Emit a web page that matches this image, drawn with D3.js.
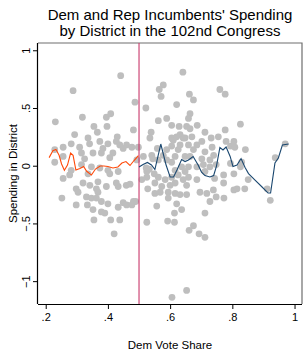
<!DOCTYPE html>
<html>
<head>
<meta charset="utf-8">
<script src="https://cdn.jsdelivr.net/npm/d3@7"></script>
<style>
  body { margin: 0; background: #fff; }
  text { font-family: "Liberation Sans", Arial, sans-serif; fill: #000; }
</style>
</head>
<body>
<svg width="303" height="352"></svg>
<script>
// incumbents: Dem vote share and spending in district
const demVote = [
  0.288, 0.231, 0.318, 0.355, 0.366, 0.293, 0.336, 0.282, 0.341, 0.374,
  0.256, 0.309, 0.229, 0.315, 0.352, 0.256, 0.325, 0.229, 0.315, 0.347,
  0.374, 0.282, 0.336, 0.256, 0.277, 0.320, 0.342, 0.368, 0.363, 0.298,
  0.304, 0.368, 0.252, 0.331, 0.347, 0.363, 0.298, 0.334, 0.352, 0.355,
  0.441, 0.487, 0.395, 0.409, 0.397, 0.430, 0.400, 0.427, 0.384, 0.438,
  0.449, 0.379, 0.416, 0.406, 0.400, 0.433, 0.482, 0.460, 0.498, 0.477,
  0.493, 0.406, 0.395, 0.427, 0.433, 0.459, 0.379, 0.400, 0.449, 0.379,
  0.390, 0.433, 0.409, 0.438, 0.420, 0.471, 0.482, 0.460, 0.477, 0.489,
  0.578, 0.565, 0.571, 0.522, 0.621, 0.562, 0.589, 0.605, 0.629, 0.539,
  0.535, 0.605, 0.632, 0.514, 0.541, 0.589, 0.559, 0.544, 0.610, 0.621,
  0.642, 0.632, 0.605, 0.626, 0.562, 0.616, 0.648, 0.637, 0.616, 0.648,
  0.525, 0.578, 0.589, 0.605, 0.523, 0.533, 0.509, 0.525, 0.549, 0.562,
  0.584, 0.626, 0.551, 0.573, 0.600, 0.528, 0.551, 0.594, 0.616, 0.632,
  0.594, 0.557, 0.621, 0.637, 0.614, 0.525, 0.592, 0.614, 0.653, 0.606,
  0.605, 0.616, 0.568,
  0.641, 0.760, 0.777, 0.662, 0.675, 0.664, 0.659, 0.687, 0.653, 0.664,
  0.777, 0.648, 0.670, 0.712, 0.732, 0.755, 0.780, 0.735, 0.740, 0.748,
  0.659, 0.686, 0.702, 0.675, 0.712, 0.702, 0.728, 0.659, 0.686, 0.707,
  0.728, 0.712, 0.664, 0.642, 0.659, 0.686, 0.653, 0.696, 0.718, 0.739,
  0.653, 0.728, 0.712, 0.675, 0.661, 0.693, 0.712, 0.748, 0.773, 0.772,
  0.743, 0.772,
  0.794, 0.805, 0.808, 0.826, 0.842, 0.794, 0.826, 0.805, 0.851, 0.805,
  0.815, 0.840, 0.912, 0.922, 0.938, 0.970, 0.830
];
const spending = [
  0.65, 0.38, 0.42, 0.34, 0.29, 0.27, 0.24, 0.19, 0.19, 0.21,
  0.16, 0.16, 0.14, 0.11, 0.11, 0.08, 0.06, 0.03, 0.01, -0.01,
  -0.02, -0.04, -0.07, -0.11, -0.08, -0.15, -0.17, -0.14, -0.20, -0.20,
  -0.23, -0.23, -0.28, -0.27, -0.28, -0.28, -0.34, -0.34, -0.38, -0.47,
  0.78, 0.55, 0.42, 0.45, 0.34, 0.25, 0.19, 0.21, 0.15, 0.18,
  0.15, 0.11, 0.11, 0.07, -0.04, -0.05, 0.31, 0.18, 0.16, 0.16,
  0.05, -0.07, -0.18, -0.15, -0.18, -0.17, -0.31, -0.33, -0.32, -0.40,
  -0.41, -0.36, -0.47, -0.47, -0.59, -0.16, -0.31, -0.34, -0.34, -0.31,
  0.70, 0.66, 0.60, 0.50, 0.53, 0.39, 0.41, 0.35, 0.34, 0.29,
  0.24, 0.24, 0.27, 0.08, 0.09, 0.14, 0.15, 0.06, 0.22, 0.25,
  0.24, 0.18, 0.17, 0.14, 0.05, 0.08, 0.08, -0.01, -0.04, -0.05,
  -0.05, 0.09, 0.05, 0.03, -0.02, -0.03, -0.12, -0.10, -0.07, -0.10,
  -0.12, -0.08, -0.15, -0.18, -0.17, -0.20, -0.24, -0.23, -0.24, -0.25,
  -0.28, -0.35, -0.33, -0.38, -0.41, -0.49, -0.48, -0.49, -1.08, -1.14,
  -0.10, -0.15, -0.23,
  0.81, 0.66, 0.62, 0.62, 0.57, 0.45, 0.41, 0.35, 0.34, 0.32,
  0.31, 0.24, 0.25, 0.29, 0.24, 0.25, 0.21, 0.16, 0.09, 0.01,
  0.18, 0.18, 0.21, 0.14, 0.12, 0.06, 0.05, -0.01, -0.01, 0.01,
  -0.01, -0.05, 0.08, -0.12, -0.10, -0.12, -0.17, -0.23, -0.24, -0.21,
  -0.25, -0.31, -0.41, -0.52, -0.56, -0.59, -0.62, -0.27, -0.28, -0.08,
  -0.11, -0.15,
  0.17, 0.21, 0.16, 0.36, 0.14, 0.02, -0.01, -0.07, -0.12, -0.21,
  -0.20, -0.20, -0.20, -0.30, 0.07, 0.19, 0.03
];

// local fits, Dem side and Rep side
const demFitX = [0.211, 0.223, 0.233, 0.243, 0.251, 0.260, 0.270, 0.280, 0.288, 0.297,
  0.310, 0.322, 0.331, 0.347, 0.360, 0.375, 0.387, 0.400, 0.416, 0.432,
  0.445, 0.458, 0.471, 0.484, 0.498];
const demFitY = [0.07, 0.13, 0.14, 0.09, 0.015, -0.04, 0.006, 0.11, 0.09, -0.037,
  -0.024, -0.007, -0.046, -0.081, -0.029, -0.003, -0.003, -0.007, -0.02, -0.011,
  0.023, 0.036, 0.002, 0.045, 0.088];
const repFitX = [0.500, 0.513, 0.527, 0.540, 0.551, 0.570, 0.587, 0.600, 0.611, 0.622,
  0.637, 0.648, 0.659, 0.674, 0.690, 0.701, 0.712, 0.728, 0.740, 0.749,
  0.760, 0.770, 0.780, 0.793, 0.802, 0.815, 0.828, 0.841, 0.852, 0.873,
  0.894, 0.915, 0.923, 0.937, 0.948, 0.961, 0.981];
const repFitY = [-0.011, 0.01, 0.028, 0.006, -0.033, 0.188, 0.006, -0.098, -0.098, -0.037,
  0.054, 0.036, 0.049, 0.08, 0.006, -0.055, -0.085, -0.098, -0.085, -0.003,
  0.158, 0.136, 0.162, 0.08, -0.007, 0.006, 0.062, -0.016, -0.068, -0.124,
  -0.18, -0.237, -0.237, 0.023, 0.067, 0.179, 0.188];

const cutoff = 0.5;
const xTicks = [0.2, 0.4, 0.6, 0.8, 1];
const xTickLabels = [".2", ".4", ".6", ".8", "1"];
const yTicks = [-1, -0.5, 0, 0.5, 1];
const yTickLabels = ["\u22121", "\u2212.5", "0", ".5", "1"];

const svg = d3.select("svg");
const plotL = 38, plotR = 302, plotT = 43, plotB = 304;

const x = d3.scaleLinear().domain([0.1752, 1.024]).range([plotL, plotR]);
const y = d3.scaleLinear().domain([-1.198, 1.063]).range([plotB, plotT]);

// title
svg.append("text")
    .attr("x", 170).attr("y", 20)
    .attr("text-anchor", "middle")
    .style("font-size", "15px")
    .text("Dem and Rep Incumbents' Spending");
svg.append("text")
    .attr("x", 170).attr("y", 36)
    .attr("text-anchor", "middle")
    .style("font-size", "15px")
    .text("by District in the 102nd Congress");

// points
svg.append("g")
    .selectAll("circle")
    .data(d3.range(demVote.length))
    .join("circle")
    .attr("cx", i => x(demVote[i]))
    .attr("cy", i => y(spending[i]))
    .attr("r", 3.4)
    .attr("fill", "#bebebe");

// plot region outline (top/right)
svg.append("path")
    .attr("d", `M${plotL},${plotT}H${plotR}V${plotB}`)
    .attr("fill", "none")
    .attr("stroke", "#6e6e6e")
    .attr("stroke-width", 1.2);

// cutoff
svg.append("line")
    .attr("x1", x(cutoff)).attr("x2", x(cutoff))
    .attr("y1", plotT).attr("y2", plotB)
    .attr("stroke", "#c8386a")
    .attr("stroke-width", 1.1);

const line = d3.line().x(d => x(d[0])).y(d => y(d[1]));

svg.append("path")
    .datum(d3.zip(demFitX, demFitY))
    .attr("d", line)
    .attr("fill", "none")
    .attr("stroke", "#ff4a0a")
    .attr("stroke-width", 1.1);

svg.append("path")
    .datum(d3.zip(repFitX, repFitY))
    .attr("d", line)
    .attr("fill", "none")
    .attr("stroke", "#1a476f")
    .attr("stroke-width", 1.1);

// axes
const xAxis = svg.append("g")
    .attr("transform", `translate(0,${plotB})`)
    .call(d3.axisBottom(x).tickValues(xTicks).tickSize(5)
        .tickFormat((d, i) => xTickLabels[i]));
xAxis.select(".domain").attr("d", `M${plotL},0.5H${plotR}`).attr("stroke", "#000").attr("stroke-width", 1.2);
xAxis.selectAll(".tick text")
    .attr("y", 9)
    .style("font-size", "11px")
    .style("font-family", "'Liberation Sans', Arial, sans-serif");

const yAxis = svg.append("g")
    .attr("transform", `translate(${plotL},0)`)
    .call(d3.axisLeft(y).tickValues(yTicks).tickSize(5)
        .tickFormat((d, i) => yTickLabels[i]));
yAxis.select(".domain").attr("d", `M-0.5,${plotT}V${plotB}`).attr("stroke", "#000").attr("stroke-width", 1.2);
yAxis.selectAll(".tick text")
    .attr("x", 0).attr("y", 0).attr("dy", 0)
    .attr("transform", "translate(-8,0) rotate(-90)")
    .attr("text-anchor", "middle")
    .style("font-size", "11px")
    .style("font-family", "'Liberation Sans', Arial, sans-serif");

// axis titles
svg.append("text")
    .attr("transform", `translate(17,${(plotT + plotB) / 2}) rotate(-90)`)
    .attr("text-anchor", "middle")
    .style("font-size", "11.5px")
    .text("Spending in District");

svg.append("text")
    .attr("x", 170).attr("y", 349)
    .attr("text-anchor", "middle")
    .style("font-size", "11.5px")
    .text("Dem Vote Share");
</script>
</body>
</html>
